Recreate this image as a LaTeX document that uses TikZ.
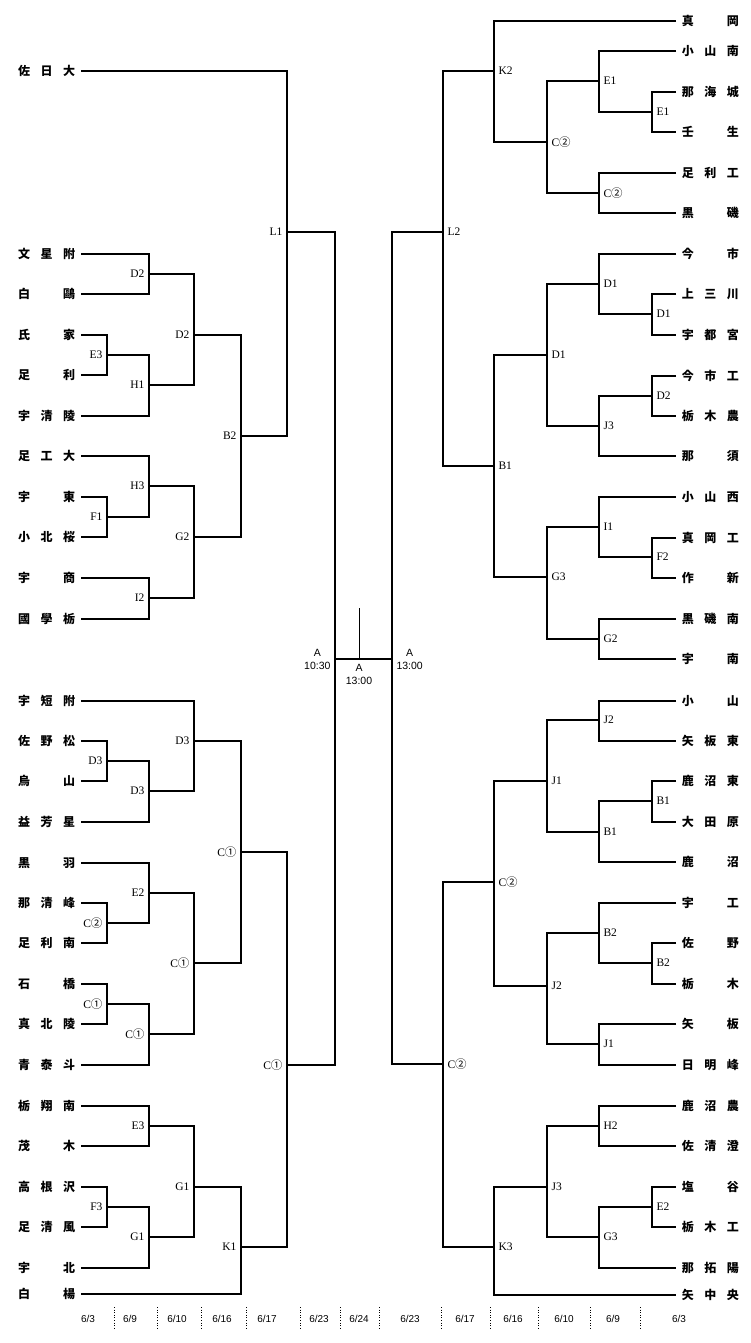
\documentclass[tikz,border=0pt]{standalone}
\usepackage{fontspec}
\setmainfont{Liberation Serif}
\newfontfamily\jpfont{Noto Sans CJK JP}
\newfontfamily\sffont{Liberation Sans}
\newcommand{\nm}[3]{\makebox[22.5pt]{#1}\makebox[22.5pt]{#2}\makebox[22.5pt]{#3}}
\tikzset{
  tl/.style={anchor=east, inner sep=0pt, font=\jpfont\bfseries\fontsize{12}{12}\selectfont},
  tr/.style={anchor=west, inner sep=0pt, font=\jpfont\bfseries\fontsize{12}{12}\selectfont},
  lbl/.style={inner sep=1pt, font=\fontsize{11.5}{12}\selectfont},
  ml/.style={label={[lbl]left:#1}},
  mr/.style={label={[lbl]right:#1}},
  tm/.style={inner sep=1pt, font=\sffont\fontsize{10.5}{13}\selectfont, align=center},
  day/.style={font=\sffont\fontsize{10}{10}\selectfont},
}
\usetikzlibrary{positioning}

\begin{document}
\begin{tikzpicture}[x=1pt, y=-1pt, line width=1.1pt, label distance=3pt]
	\useasboundingbox (0,0) rectangle (750,1343);
	% left teams
	\node[tl] (L1) at (81,71) {\nm{佐}{日}{大}};
	\node[tl] (L2) at (81,254) {\nm{文}{星}{附}};
	\node[tl] (L3) at (81,294) {\nm{白}{}{鷗}};
	\node[tl] (L4) at (81,335) {\nm{氏}{}{家}};
	\node[tl] (L5) at (81,375) {\nm{足}{}{利}};
	\node[tl] (L6) at (81,416) {\nm{宇}{清}{陵}};
	\node[tl] (L7) at (81,456) {\nm{足}{工}{大}};
	\node[tl] (L8) at (81,497) {\nm{宇}{}{東}};
	\node[tl] (L9) at (81,537) {\nm{小}{北}{桜}};
	\node[tl] (L10) at (81,578) {\nm{宇}{}{商}};
	\node[tl] (L11) at (81,619) {\nm{國}{學}{栃}};
	\node[tl] (L12) at (81,701) {\nm{宇}{短}{附}};
	\node[tl] (L13) at (81,741) {\nm{佐}{野}{松}};
	\node[tl] (L14) at (81,781) {\nm{烏}{}{山}};
	\node[tl] (L15) at (81,822) {\nm{益}{芳}{星}};
	\node[tl] (L16) at (81,863) {\nm{黒}{}{羽}};
	\node[tl] (L17) at (81,903) {\nm{那}{清}{峰}};
	\node[tl] (L18) at (81,943) {\nm{足}{利}{南}};
	\node[tl] (L19) at (81,984) {\nm{石}{}{橋}};
	\node[tl] (L20) at (81,1024) {\nm{真}{北}{陵}};
	\node[tl] (L21) at (81,1065) {\nm{青}{泰}{斗}};
	\node[tl] (L22) at (81,1106) {\nm{栃}{翔}{南}};
	\node[tl] (L23) at (81,1146) {\nm{茂}{}{木}};
	\node[tl] (L24) at (81,1187) {\nm{高}{根}{沢}};
	\node[tl] (L25) at (81,1227) {\nm{足}{清}{風}};
	\node[tl] (L26) at (81,1268) {\nm{宇}{}{北}};
	\node[tl] (L27) at (81,1294) {\nm{白}{}{楊}};
	% right teams
	\node[tr] (R1) at (676,21) {\nm{真}{}{岡}};
	\node[tr] (R2) at (676,51) {\nm{小}{山}{南}};
	\node[tr] (R3) at (676,92) {\nm{那}{海}{城}};
	\node[tr] (R4) at (676,132) {\nm{壬}{}{生}};
	\node[tr] (R5) at (676,173) {\nm{足}{利}{工}};
	\node[tr] (R6) at (676,213) {\nm{黒}{}{磯}};
	\node[tr] (R7) at (676,254) {\nm{今}{}{市}};
	\node[tr] (R8) at (676,294) {\nm{上}{三}{川}};
	\node[tr] (R9) at (676,335) {\nm{宇}{都}{宮}};
	\node[tr] (R10) at (676,376) {\nm{今}{市}{工}};
	\node[tr] (R11) at (676,416) {\nm{栃}{木}{農}};
	\node[tr] (R12) at (676,456) {\nm{那}{}{須}};
	\node[tr] (R13) at (676,497) {\nm{小}{山}{西}};
	\node[tr] (R14) at (676,538) {\nm{真}{岡}{工}};
	\node[tr] (R15) at (676,578) {\nm{作}{}{新}};
	\node[tr] (R16) at (676,619) {\nm{黒}{磯}{南}};
	\node[tr] (R17) at (676,659) {\nm{宇}{}{南}};
	\node[tr] (R18) at (676,701) {\nm{小}{}{山}};
	\node[tr] (R19) at (676,741) {\nm{矢}{板}{東}};
	\node[tr] (R20) at (676,781) {\nm{鹿}{沼}{東}};
	\node[tr] (R21) at (676,822) {\nm{大}{田}{原}};
	\node[tr] (R22) at (676,862) {\nm{鹿}{}{沼}};
	\node[tr] (R23) at (676,903) {\nm{宇}{}{工}};
	\node[tr] (R24) at (676,943) {\nm{佐}{}{野}};
	\node[tr] (R25) at (676,984) {\nm{栃}{}{木}};
	\node[tr] (R26) at (676,1024) {\nm{矢}{}{板}};
	\node[tr] (R27) at (676,1065) {\nm{日}{明}{峰}};
	\node[tr] (R28) at (676,1106) {\nm{鹿}{沼}{農}};
	\node[tr] (R29) at (676,1146) {\nm{佐}{清}{澄}};
	\node[tr] (R30) at (676,1187) {\nm{塩}{}{谷}};
	\node[tr] (R31) at (676,1227) {\nm{栃}{木}{工}};
	\node[tr] (R32) at (676,1268) {\nm{那}{拓}{陽}};
	\node[tr] (R33) at (676,1295) {\nm{矢}{中}{央}};
	% left bracket
	\coordinate[ml=D2] (ld2a) at (149,274);
	\draw (L2.east) -| (ld2a) |- (L3.east);
	\coordinate[ml=E3] (le3a) at (107,355);
	\draw (L4.east) -| (le3a) |- (L5.east);
	\coordinate[ml=H1] (lh1) at (149,385);
	\draw (le3a) -| (lh1) |- (L6.east);
	\coordinate[ml=D2] (ld2b) at (194,335);
	\draw (ld2a) -| (ld2b) |- (lh1);
	\coordinate[ml=F1] (lf1) at (107,517);
	\draw (L8.east) -| (lf1) |- (L9.east);
	\coordinate[ml=H3] (lh3) at (149,486);
	\draw (L7.east) -| (lh3) |- (lf1);
	\coordinate[ml=I2] (li2) at (149,598);
	\draw (L10.east) -| (li2) |- (L11.east);
	\coordinate[ml=G2] (lg2) at (194,537);
	\draw (lh3) -| (lg2) |- (li2);
	\coordinate[ml=B2] (lb2) at (241,436);
	\draw (ld2b) -| (lb2) |- (lg2);
	\coordinate[ml=L1] (ll1) at (287,232);
	\draw (L1.east) -| (ll1) |- (lb2);
	\coordinate[ml=D3] (ld3a) at (107,761);
	\draw (L13.east) -| (ld3a) |- (L14.east);
	\coordinate[ml=D3] (ld3b) at (149,791);
	\draw (ld3a) -| (ld3b) |- (L15.east);
	\coordinate[ml=D3] (ld3c) at (194,741);
	\draw (L12.east) -| (ld3c) |- (ld3b);
	\coordinate[ml=C{\jpfont ②}] (lc2) at (107,923);
	\draw (L17.east) -| (lc2) |- (L18.east);
	\coordinate[ml=E2] (le2) at (149,893);
	\draw (L16.east) -| (le2) |- (lc2);
	\coordinate[ml=C{\jpfont ①}] (lc1a) at (107,1004);
	\draw (L19.east) -| (lc1a) |- (L20.east);
	\coordinate[ml=C{\jpfont ①}] (lc1b) at (149,1034);
	\draw (lc1a) -| (lc1b) |- (L21.east);
	\coordinate[ml=C{\jpfont ①}] (lc1c) at (194,963);
	\draw (le2) -| (lc1c) |- (lc1b);
	\coordinate[ml=C{\jpfont ①}] (lc1d) at (241,852);
	\draw (ld3c) -| (lc1d) |- (lc1c);
	\coordinate[ml=E3] (le3b) at (149,1126);
	\draw (L22.east) -| (le3b) |- (L23.east);
	\coordinate[ml=F3] (lf3) at (107,1207);
	\draw (L24.east) -| (lf3) |- (L25.east);
	\coordinate[ml=G1] (lg1a) at (149,1237);
	\draw (lf3) -| (lg1a) |- (L26.east);
	\coordinate[ml=G1] (lg1b) at (194,1187);
	\draw (le3b) -| (lg1b) |- (lg1a);
	\coordinate[ml=K1] (lk1) at (241,1247);
	\draw (lg1b) -| (lk1) |- (L27.east);
	\coordinate[ml=C{\jpfont ①}] (lc1e) at (287,1065);
	\draw (lc1d) -| (lc1e) |- (lk1);
	% right bracket
	\coordinate[mr=E1] (re1a) at (652,112);
	\draw (R3.west) -| (re1a) |- (R4.west);
	\coordinate[mr=E1] (re1b) at (599,81);
	\draw (R2.west) -| (re1b) |- (re1a);
	\coordinate[mr=C{\jpfont ②}] (rc2a) at (599,193);
	\draw (R5.west) -| (rc2a) |- (R6.west);
	\coordinate[mr=C{\jpfont ②}] (rc2b) at (547,142);
	\draw (re1b) -| (rc2b) |- (rc2a);
	\coordinate[mr=K2] (rk2) at (494,71);
	\draw (R1.west) -| (rk2) |- (rc2b);
	\coordinate[mr=D1] (rd1a) at (652,314);
	\draw (R8.west) -| (rd1a) |- (R9.west);
	\coordinate[mr=D1] (rd1b) at (599,284);
	\draw (R7.west) -| (rd1b) |- (rd1a);
	\coordinate[mr=D2] (rd2) at (652,396);
	\draw (R10.west) -| (rd2) |- (R11.west);
	\coordinate[mr=J3] (rj3a) at (599,426);
	\draw (rd2) -| (rj3a) |- (R12.west);
	\coordinate[mr=D1] (rd1c) at (547,355);
	\draw (rd1b) -| (rd1c) |- (rj3a);
	\coordinate[mr=F2] (rf2) at (652,557);
	\draw (R14.west) -| (rf2) |- (R15.west);
	\coordinate[mr=I1] (ri1) at (599,527);
	\draw (R13.west) -| (ri1) |- (rf2);
	\coordinate[mr=G2] (rg2) at (599,639);
	\draw (R16.west) -| (rg2) |- (R17.west);
	\coordinate[mr=G3] (rg3a) at (547,577);
	\draw (ri1) -| (rg3a) |- (rg2);
	\coordinate[mr=B1] (rb1a) at (494,466);
	\draw (rd1c) -| (rb1a) |- (rg3a);
	\coordinate[mr=L2] (rl2) at (443,232);
	\draw (rk2) -| (rl2) |- (rb1a);
	\coordinate[mr=J2] (rj2a) at (599,720);
	\draw (R18.west) -| (rj2a) |- (R19.west);
	\coordinate[mr=B1] (rb1b) at (652,801);
	\draw (R20.west) -| (rb1b) |- (R21.west);
	\coordinate[mr=B1] (rb1c) at (599,832);
	\draw (rb1b) -| (rb1c) |- (R22.west);
	\coordinate[mr=J1] (rj1a) at (547,781);
	\draw (rj2a) -| (rj1a) |- (rb1c);
	\coordinate[mr=B2] (rb2a) at (652,963);
	\draw (R24.west) -| (rb2a) |- (R25.west);
	\coordinate[mr=B2] (rb2b) at (599,933);
	\draw (R23.west) -| (rb2b) |- (rb2a);
	\coordinate[mr=J1] (rj1b) at (599,1044);
	\draw (R26.west) -| (rj1b) |- (R27.west);
	\coordinate[mr=J2] (rj2b) at (547,986);
	\draw (rb2b) -| (rj2b) |- (rj1b);
	\coordinate[mr=C{\jpfont ②}] (rc2c) at (494,882);
	\draw (rj1a) -| (rc2c) |- (rj2b);
	\coordinate[mr=H2] (rh2) at (599,1126);
	\draw (R28.west) -| (rh2) |- (R29.west);
	\coordinate[mr=E2] (re2) at (652,1207);
	\draw (R30.west) -| (re2) |- (R31.west);
	\coordinate[mr=G3] (rg3b) at (599,1237);
	\draw (re2) -| (rg3b) |- (R32.west);
	\coordinate[mr=J3] (rj3b) at (547,1187);
	\draw (rh2) -| (rj3b) |- (rg3b);
	\coordinate[mr=K3] (rk3) at (494,1247);
	\draw (rj3b) -| (rk3) |- (R33.west);
	\coordinate[mr=C{\jpfont ②}] (rc2d) at (443,1064);
	\draw (rc2c) -| (rc2d) |- (rk3);
	% final
	\coordinate[label={[tm]left:A\\10:30}] (lfin) at (335,659);
	\coordinate[label={[tm]right:A\\13:00}] (rfin) at (392,659);
	\draw (ll1) -| (lfin) |- (lc1e);
	\draw (rl2) -| (rfin) |- (rc2d);
	\draw (lfin) -- (rfin);
	\coordinate (ctr) at (359,659);
	\coordinate (ctop) at (359,608);
	\draw[line width=0.8pt] (ctop) -- (ctr);
	\node[tm, anchor=north] (fin) at (359,663) {A\\13:00};
	% dates
	\node[day] (d1) at (88,1319) {6/3};
	\node[day] (d2) at (130,1319) {6/9};
	\node[day] (d3) at (177,1319) {6/10};
	\node[day] (d4) at (222,1319) {6/16};
	\node[day] (d5) at (267,1319) {6/17};
	\node[day] (d6) at (319,1319) {6/23};
	\node[day] (d7) at (359,1319) {6/24};
	\node[day] (d8) at (410,1319) {6/23};
	\node[day] (d9) at (465,1319) {6/17};
	\node[day] (d10) at (513,1319) {6/16};
	\node[day] (d11) at (564,1319) {6/10};
	\node[day] (d12) at (613,1319) {6/9};
	\node[day] (d13) at (679,1319) {6/3};
	\draw[dotted, line width=0.6pt] (114,1307) -- (114,1329) (157,1307) -- (157,1329)
		(201,1307) -- (201,1329) (246,1307) -- (246,1329) (300,1307) -- (300,1329)
		(340,1307) -- (340,1329) (379,1307) -- (379,1329) (441,1307) -- (441,1329)
		(490,1307) -- (490,1329) (538,1307) -- (538,1329) (590,1307) -- (590,1329)
		(640,1307) -- (640,1329);
\end{tikzpicture}
\end{document}
